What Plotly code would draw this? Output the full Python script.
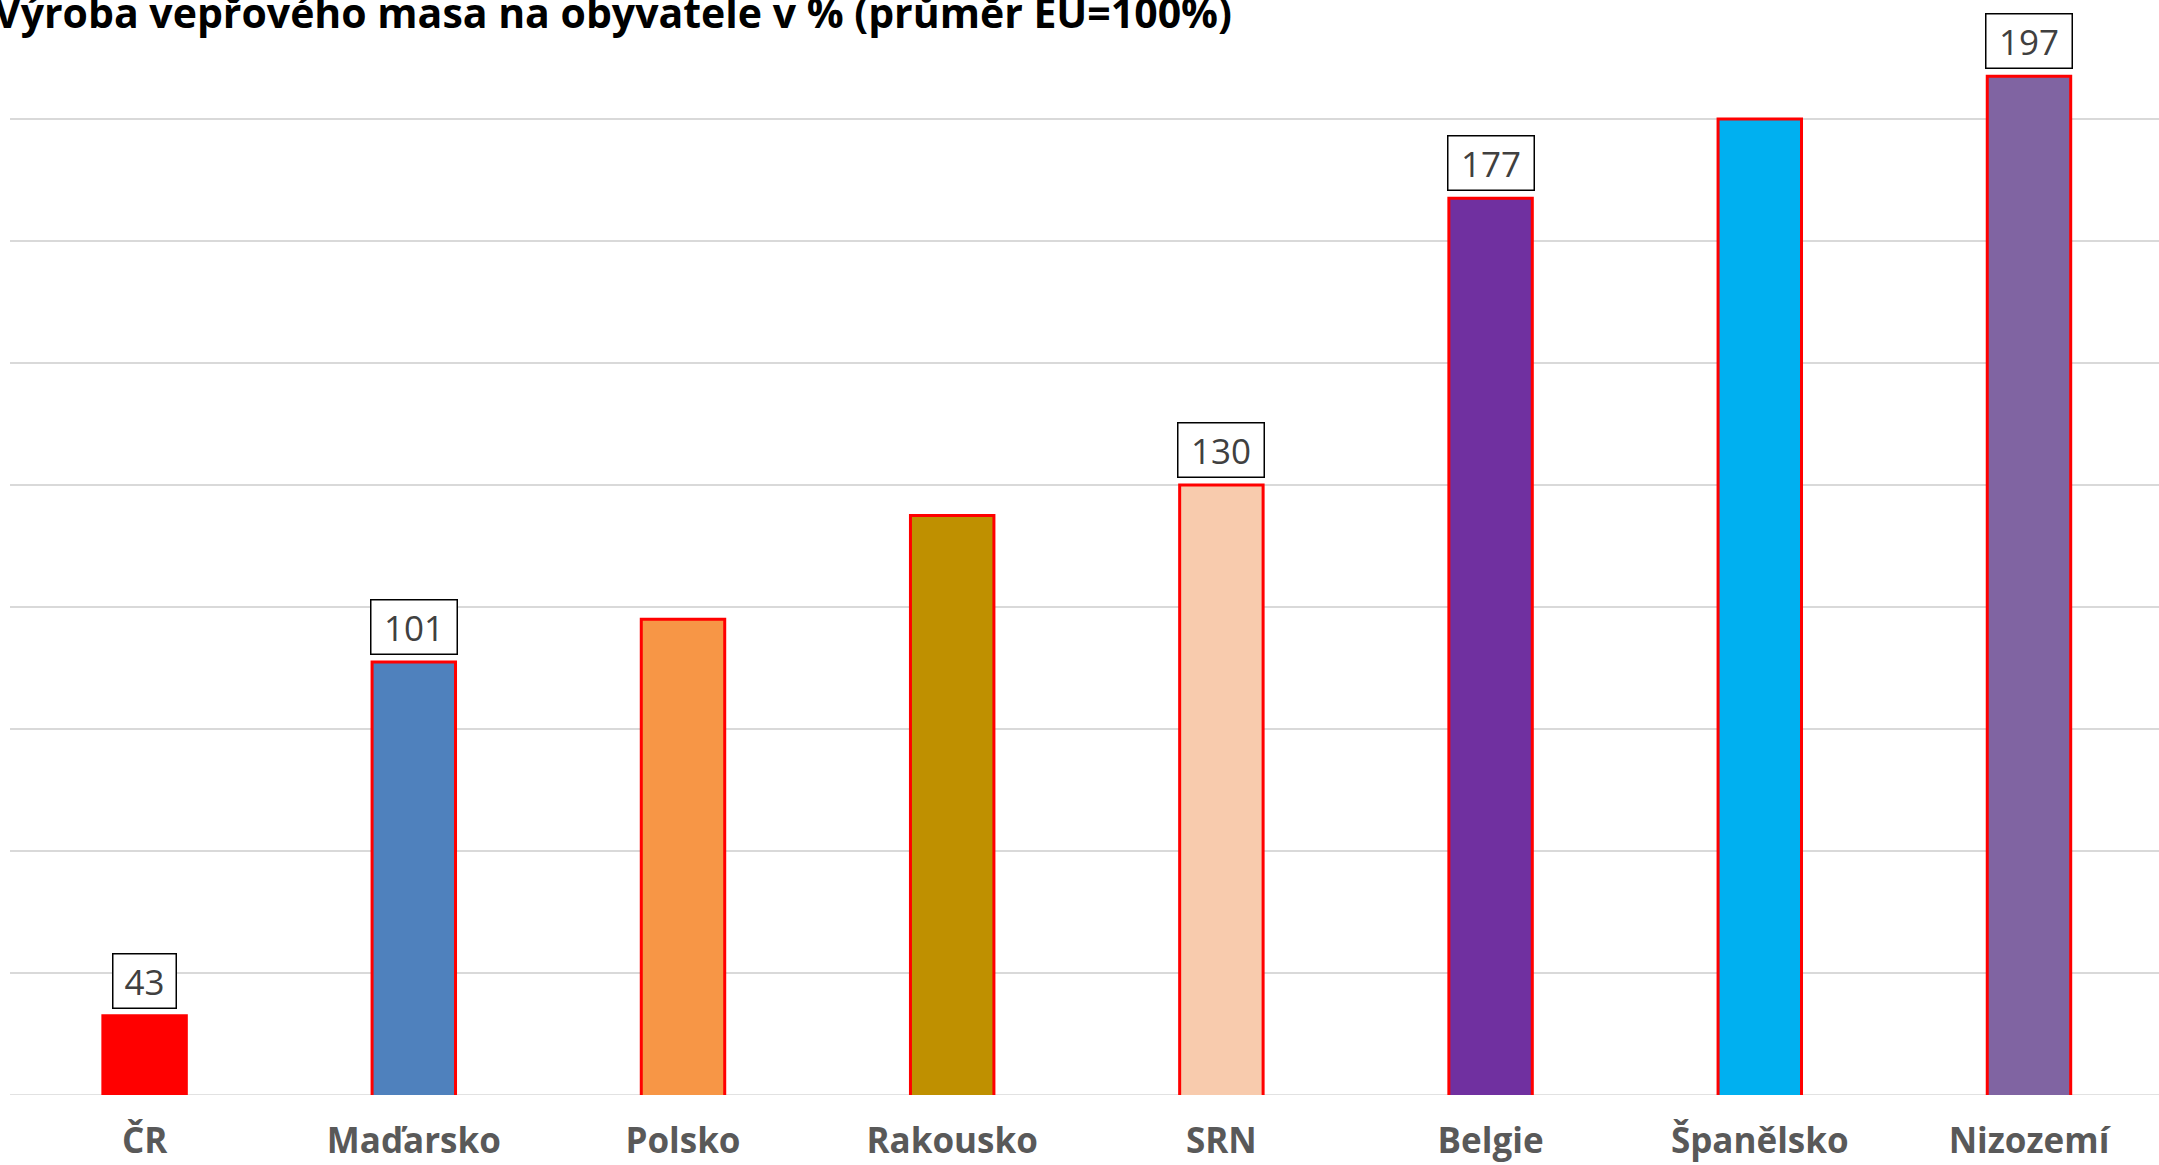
import plotly.graph_objects as go

categories = ["ČR", "Maďarsko", "Polsko", "Rakousko", "SRN", "Belgie", "Španělsko", "Nizozemí"]
values = [43, 101, 108, 125, 130, 177, 190, 197]
bar_colors = ["#FF0000", "#4F81BD", "#F79646", "#BF9000", "#F8CBAD", "#7030A0", "#00B0F0", "#8064A2"]
label_shown = [True, True, False, False, True, True, False, True]
title_text = "Výroba vepřového masa na obyvatele v % (průměr EU=100%)"

W, H = 2159, 1165
ml, mr, mt, mb = 10, 0, 0, 70

fig = go.Figure()
fig.add_trace(go.Bar(
    x=categories, y=values,
    marker=dict(color=bar_colors, line=dict(color="#FF0000", width=3)),
    width=0.31,
    hoverinfo="x+y",
))

for c, v, show in zip(categories, values, label_shown):
    if not show:
        continue
    txt = str(v)
    fig.add_annotation(
        x=c, y=v, xref="x", yref="y", text=txt, showarrow=False,
        yanchor="bottom", yshift=7,
        font=dict(family="Open Sans", size=35, color="#404040"),
        bgcolor="white", bordercolor="#000000", borderwidth=1.5, borderpad=3,
        width=56 if len(txt) == 2 else 79, height=47,
    )

fig.add_annotation(
    x=0, y=1, xref="paper", yref="paper", xanchor="left", yanchor="top",
    xshift=-18, yshift=18, text="<b>" + title_text + "</b>", showarrow=False,
    font=dict(family="Open Sans", size=41, color="#000000"),
)

fig.update_layout(
    width=W, height=H,
    margin=dict(l=ml, r=mr, t=mt, b=mb, pad=0, autoexpand=False),
    paper_bgcolor="white", plot_bgcolor="white",
    showlegend=False,
    xaxis=dict(
        range=[-0.5, 7.483], showgrid=False, showline=False, ticks="",
        tickfont=dict(family="Open Sans", size=35, color="#595959", weight="bold"),
        ticklabelstandoff=22, automargin=False,
    ),
    yaxis=dict(
        range=[30, 209.5], dtick=20, tick0=30, showgrid=True, gridcolor="#D9D9D9", gridwidth=1.5,
        showticklabels=False, zeroline=False, showline=False, ticks="", automargin=False,
    ),
)
fig.add_hline(y=30, line=dict(color="#D9D9D9", width=1.5), layer="below")

fig.write_html(
    "out.html",
    config={"displayModeBar": False},
    post_script="document.body.style.margin='0';document.body.style.overflow='hidden';",
)
